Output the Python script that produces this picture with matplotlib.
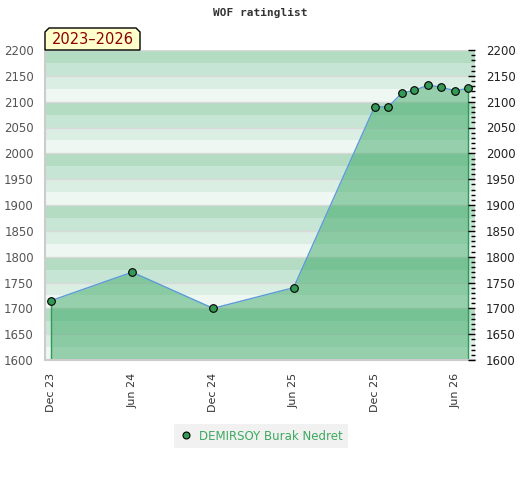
import matplotlib
matplotlib.use("Agg")
import matplotlib.pyplot as plt
import matplotlib.dates as mdates
from matplotlib.patches import Polygon
from matplotlib.lines import Line2D
import datetime as dt

# ---- data ----
months = ["2023-12", "2024-06", "2024-12", "2025-06", "2025-12", "2026-01",
          "2026-02", "2026-03", "2026-04", "2026-05", "2026-06", "2026-07"]
ratings = [1715, 1770, 1700, 1740, 2090, 2090, 2117, 2122, 2132, 2128, 2121, 2126]
player = "DEMIRSOY Burak Nedret"
title = "WOF ratinglist"
period = "2023\u20132026"
y_min, y_max = 1600, 2200
band_colors = ["#eff7f2", "#dbeee3", "#c7e5d4", "#b3dcc3"]  # bottom->top within each 100

dates = [dt.datetime.strptime(m, "%Y-%m") for m in months]

W, H = 520, 480
fig = plt.figure(figsize=(W / 100, H / 100), dpi=100)
ax = fig.add_axes([45 / W, 1 - 360 / H, 430 / W, 310 / H])

# background bands
for base in range(y_min, y_max, 100):
    for i, c in enumerate(band_colors):
        ax.axhspan(base + 25 * i, base + 25 * (i + 1), color=c, lw=0, zorder=0)
for g in range(y_min, y_max + 1, 50):
    ax.axhline(g, color="#d9d9d9", lw=1, zorder=0.5)

# fill + line
ax.fill_between(dates, ratings, y_min, color="#3da966", alpha=0.5, lw=0, zorder=1)
ax.vlines([dates[0], dates[-1]], y_min, [ratings[0], ratings[-1]],
          color="#2f9a55", lw=1, zorder=2)
ax.plot(dates, ratings, color="#5b9bd5", lw=1, zorder=3)
ax.plot(dates, ratings, ls="none", marker="o", ms=5.5, mfc="#339955",
        mec="black", mew=0.8, zorder=4)

ax.set_xlim(dt.datetime(2023, 11, 17), dt.datetime(2026, 7, 16))
ax.set_ylim(y_min, y_max)
ax.xaxis.set_major_locator(mdates.MonthLocator(bymonth=[6, 12]))
ax.xaxis.set_major_formatter(mdates.DateFormatter("%b %y"))
ax.tick_params(axis="x", length=0, pad=9, labelsize=8, labelcolor="#333333",
               labelrotation=90)
ax.set_yticks(range(y_min, y_max + 1, 50))
ax.tick_params(axis="y", length=0, pad=8, labelsize=8.5, labelcolor="#555555")

for s in ["top", "right"]:
    ax.spines[s].set_visible(False)
for s in ["left", "bottom"]:
    ax.spines[s].set_color("#cccccc")
    ax.spines[s].set_linewidth(1.5)

ax2 = ax.twinx()
ax2.set_ylim(y_min, y_max)
ax2.set_yticks(range(y_min, y_max + 1, 50))
ax2.set_yticks(range(y_min, y_max + 1, 10), minor=True)
ax2.tick_params(axis="y", which="major", direction="in", length=5, width=1,
                color="black", pad=8, labelsize=8.5, labelcolor="#222222")
ax2.tick_params(axis="y", which="minor", direction="in", length=3, width=1,
                color="black")
for s in ax2.spines.values():
    s.set_visible(False)

# title
fig.text(0.5, 1 - 13 / H, title, ha="center", va="center",
         family="DejaVu Sans Mono", weight="bold", size=8, color="#333333")

# period box
pts = [(45, 50), (45, 32), (49, 28), (136, 28), (140, 32), (140, 50)]
poly = Polygon([(x / W, 1 - y / H) for x, y in pts], closed=True,
               transform=fig.transFigure, facecolor="#ffffcc",
               edgecolor="black", lw=1, zorder=10)
fig.add_artist(poly)
fig.text(92.5 / W, 1 - 40 / H, period, ha="center", va="center",
         size=10.5, color="#8b0000", zorder=11)

# legend
handle = Line2D([], [], ls="none", marker="o", ms=5, mfc="#339955",
                mec="black", mew=0.8)
leg = fig.legend([handle], [player], loc="center", bbox_to_anchor=(261 / W, 1 - 436 / H),
                 frameon=True, fontsize=8.5, handlelength=1, handletextpad=0.6,
                 borderpad=0.45, fancybox=False)
leg.get_frame().set_facecolor("#eeeeee")
leg.get_frame().set_edgecolor("none")
for t in leg.get_texts():
    t.set_color("#3daa5f")

fig.savefig("out.png", dpi=100)
